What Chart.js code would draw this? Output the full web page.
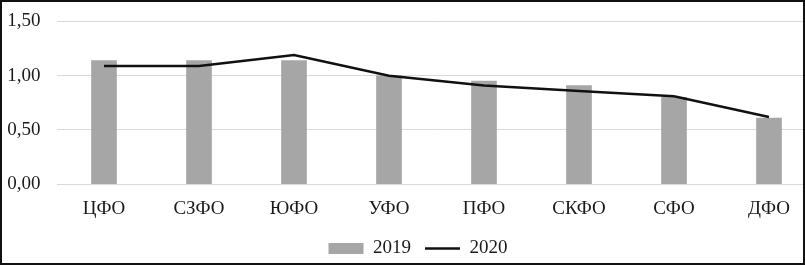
<!DOCTYPE html>
<html>
<head>
<meta charset="utf-8">
<script src="https://cdn.jsdelivr.net/npm/chart.js@4.4.1/dist/chart.umd.min.js"></script>
<style>
  html, body { margin: 0; padding: 0; background: #fff; }
  #frame {
    position: relative;
    width: 805px;
    height: 265px;
    box-sizing: border-box;
    border: 2px solid #111;
    overflow: hidden;
    background: #fff;
  }
  #wrap { position: absolute; left: 0; top: 0; width: 832px; height: 261px; }
</style>
</head>
<body>
<div id="frame">
  <div id="wrap"><canvas id="chart"></canvas></div>
</div>
<script>
// федеральные округа
const districts = ["ЦФО", "СЗФО", "ЮФО", "УФО", "ПФО", "СКФО", "СФО", "ДФО"];
const values2019 = [1.14, 1.14, 1.14, 1.00, 0.95, 0.91, 0.80, 0.61];
const values2020 = [1.09, 1.09, 1.19, 1.00, 0.91, 0.86, 0.81, 0.62];
const yTicks = [0, 0.5, 1.0, 1.5];

const font = { family: "'Liberation Serif', 'Times New Roman', serif", size: 19 };
const textColor = "#1a1a1a";

const ctx = document.getElementById("chart").getContext("2d");
const chart = new Chart(ctx, {
  type: "bar",
  data: {
    labels: districts,
    datasets: [
      {
        type: "line",
        label: "2020",
        data: values2020,
        borderColor: "#111",
        backgroundColor: "#111",
        borderWidth: 2.5,
        tension: 0,
        pointRadius: 0,
        pointStyle: "line",
        order: 0,
      },
      {
        label: "2019",
        data: values2019,
        backgroundColor: "#a6a6a6",
        borderWidth: 0,
        barThickness: 25,
        pointStyle: "rect",
        order: 1,
      },
    ],
  },
  options: {
    responsive: true,
    maintainAspectRatio: false,
    animation: false,
    layout: { padding: { top: 19.5, bottom: -5, left: 0, right: 0 } },
    plugins: {
      tooltip: { enabled: false },
      legend: {
        position: "bottom",
        reverse: true,
        labels: {
          font: font,
          color: textColor,
          usePointStyle: true,
          pointStyleWidth: 35,
          boxHeight: 11,
          padding: 14,
        },
      },
    },
    scales: {
      x: {
        grid: { display: false },
        border: { display: false },
        ticks: { font: font, color: textColor, padding: 5, maxRotation: 0 },
      },
      y: {
        min: 0,
        max: 1.5,
        afterBuildTicks: (s) => { s.ticks = yTicks.map((v) => ({ value: v })); },
        afterFit: (s) => { s.width = 54.5; s.paddingTop = 0; },
        grid: { color: "#d9d9d9", lineWidth: 1, drawTicks: false },
        border: { display: false },
        ticks: {
          font: font,
          color: textColor,
          padding: 16,
          callback: (v) => v.toFixed(2).replace(".", ","),
        },
      },
      yRight: {
        position: "right",
        display: true,
        grid: { display: false },
        border: { display: false },
        ticks: { display: false },
        afterFit: (s) => { s.width = 17.5; },
      },
    },
  },
});
</script>
</body>
</html>
